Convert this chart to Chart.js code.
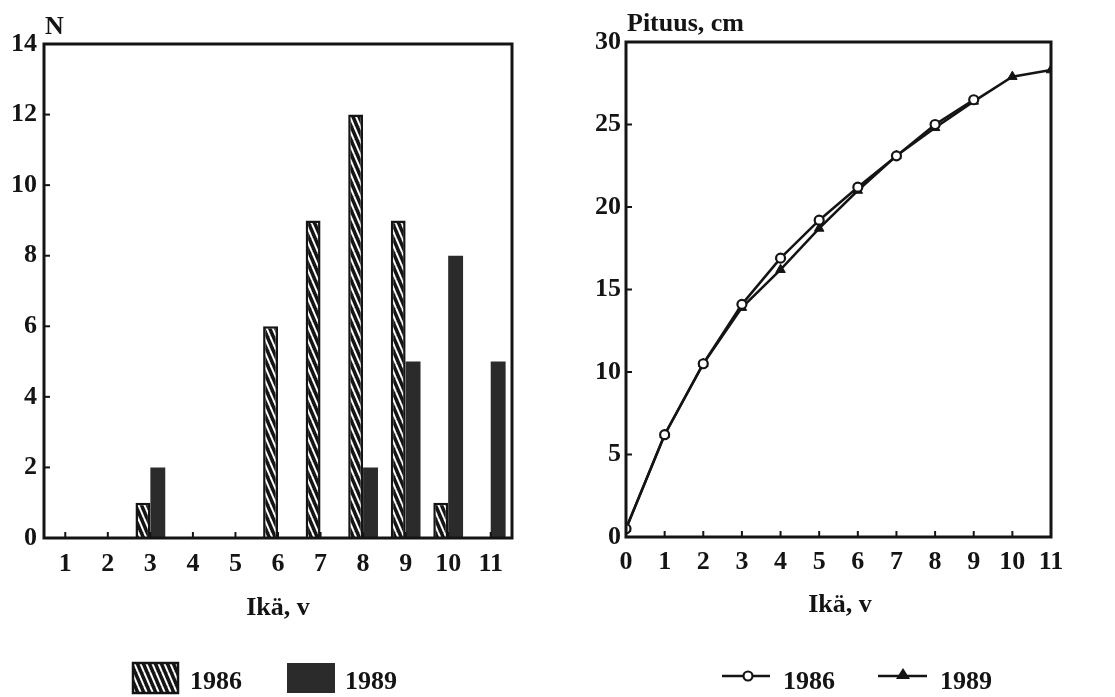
<!DOCTYPE html>
<html><head><meta charset="utf-8">
<script src="https://cdn.jsdelivr.net/npm/chart.js@4"></script>
<style>
html,body{margin:0;padding:0;background:#fff;width:1115px;height:697px;overflow:hidden}
#w1{position:absolute;left:0;top:0;width:540px;height:697px}
#w2{position:absolute;left:540px;top:0;width:575px;height:697px}
</style></head><body>
<div id="w1"><canvas id="c1"></canvas></div>
<div id="w2"><canvas id="c2"></canvas></div>
<script>
// ---- data ----
const ageCategories = ['1','2','3','4','5','6','7','8','9','10','11'];
const count1986 = [0,0,1,0,0,6,9,12,9,1,0];
const count1989 = [0,0,2,0,0,0,0,2,5,8,5];
const countTicks = [0,2,4,6,8,10,12,14];
const lengthAges1986 = [0,1,2,3,4,5,6,7,8,9];
const length1986 = [0.5,6.2,10.5,14.1,16.9,19.2,21.2,23.1,25.0,26.5];
const lengthAges1989 = [0,1,2,3,4,5,6,7,8,9,10,11];
const length1989 = [0.5,6.2,10.5,13.9,16.2,18.7,21.0,23.1,24.8,26.4,27.9,28.3];
const lengthTicks = [0,5,10,15,20,25,30];
const ageTicks = [0,1,2,3,4,5,6,7,8,9,10,11];
const seriesNames = ['1986','1989'];

const INK = '#141414';
const DARK = '#2b2b2b';
const FONT = "'Liberation Serif','DejaVu Serif',serif";
const tickFont = {family: FONT, size: 26, weight: 'bold'};

// hatch pattern
function makeHatch(){
  const c = document.createElement('canvas');
  c.width = 6; c.height = 14;
  const g = c.getContext('2d');
  g.fillStyle = INK; g.fillRect(0,0,6,14);
  g.strokeStyle = '#fff'; g.lineWidth = 2;
  for (let k=-1;k<=1;k++){ g.beginPath(); g.moveTo(k*6,0); g.lineTo(k*6+6,14); g.stroke(); }
  return document.createElement('canvas').getContext('2d').createPattern(c,'repeat');
}
const hatch = makeHatch();

function frameAndTicks(){
  return {
    id:'frame',
    afterDatasetsDraw(chart){
      const {ctx, chartArea:a, scales} = chart;
      ctx.save();
      ctx.strokeStyle = INK; ctx.lineWidth = 3;
      ctx.strokeRect(a.left, a.top, a.right-a.left, a.bottom-a.top);
      ctx.lineWidth = 2;
      scales.y.ticks.forEach(t=>{
        const y = scales.y.getPixelForValue(t.value);
        ctx.beginPath(); ctx.moveTo(a.left, y); ctx.lineTo(a.left+6, y); ctx.stroke();
      });
      scales.x.ticks.forEach((t,i)=>{
        const x = scales.x.getPixelForTick(i);
        ctx.beginPath(); ctx.moveTo(x, a.bottom); ctx.lineTo(x, a.bottom-6); ctx.stroke();
      });
      ctx.restore();
    }
  };
}

// ---- bar chart ----
new Chart(document.getElementById('c1'), {
  type:'bar',
  data:{
    labels: ageCategories,
    datasets:[
      {label:seriesNames[0], data:count1986, backgroundColor:hatch, borderColor:INK, borderWidth:2.5, borderSkipped:'bottom',
       categoryPercentage:0.7, barPercentage:1.0},
      {label:seriesNames[1], data:count1989, backgroundColor:DARK, borderColor:INK, borderWidth:0,
       categoryPercentage:0.7, barPercentage:1.0}
    ]
  },
  options:{
    responsive:true, maintainAspectRatio:false, animation:false, devicePixelRatio:1,
    layout:{padding:{left:0,right:28,top:44,bottom:0}},
    plugins:{legend:{display:false}, tooltip:{enabled:false}},
    scales:{
      x:{grid:{display:false, drawTicks:false}, border:{display:false},
         ticks:{font:tickFont, color:INK, padding:11, maxRotation:0, autoSkip:false},
         afterFit(s){ s.height = 159; }},
      y:{min:0, max:14, afterBuildTicks(s){ s.ticks = countTicks.map(v=>({value:v})); },
         grid:{display:false, drawTicks:false}, border:{display:false},
         ticks:{font:tickFont, color:INK, padding:7},
         afterFit(s){ s.width = 44; }}
    }
  },
  plugins:[frameAndTicks(), {
    id:'texts',
    afterDraw(chart){
      const ctx = chart.ctx;
      ctx.save();
      ctx.fillStyle = INK;
      ctx.font = `bold 26px ${FONT}`;
      ctx.textBaseline = 'middle';
      ctx.textAlign = 'left';
      ctx.fillText('N', 45, 27);
      ctx.textAlign = 'center';
      ctx.fillText('Ikä, v', 278, 608);
      // legend
      ctx.textAlign = 'left';
      ctx.fillStyle = hatch; ctx.fillRect(133,663,45,30);
      ctx.strokeStyle = INK; ctx.lineWidth = 2.5; ctx.strokeRect(133,663,45,30);
      ctx.fillStyle = INK; ctx.fillText(seriesNames[0], 190, 682);
      ctx.fillStyle = DARK; ctx.fillRect(287,663,48,30);
      ctx.fillStyle = INK; ctx.fillText(seriesNames[1], 345, 682);
      ctx.restore();
    }
  }]
});

// ---- line chart ----
new Chart(document.getElementById('c2'), {
  type:'line',
  data:{
    datasets:[
      {label:seriesNames[0], data:lengthAges1986.map((a,i)=>({x:a,y:length1986[i]})),
       borderColor:INK, borderWidth:2.5, pointStyle:'circle', pointRadius:4.5,
       pointBackgroundColor:'#fff', pointBorderColor:INK, pointBorderWidth:2.2, tension:0, fill:false},
      {label:seriesNames[1], data:lengthAges1989.map((a,i)=>({x:a,y:length1989[i]})),
       borderColor:INK, borderWidth:2.5, pointStyle:'triangle', pointRadius:5.5,
       pointBackgroundColor:INK, pointBorderColor:INK, pointBorderWidth:1, tension:0, fill:false}
    ]
  },
  options:{
    responsive:true, maintainAspectRatio:false, animation:false, devicePixelRatio:1,
    layout:{padding:{left:0,right:64,top:42,bottom:0}},
    plugins:{legend:{display:false}, tooltip:{enabled:false}},
    scales:{
      x:{type:'linear', min:0, max:11, afterBuildTicks(s){ s.ticks = ageTicks.map(v=>({value:v})); },
         grid:{display:false, drawTicks:false}, border:{display:false},
         ticks:{font:tickFont, color:INK, padding:10, maxRotation:0, autoSkip:false},
         afterFit(s){ s.height = 160; }},
      y:{min:0, max:30, afterBuildTicks(s){ s.ticks = lengthTicks.map(v=>({value:v})); },
         grid:{display:false, drawTicks:false}, border:{display:false},
         ticks:{font:tickFont, color:INK, padding:5},
         afterFit(s){ s.width = 86; }}
    }
  },
  plugins:[frameAndTicks(), {
    id:'texts2',
    afterDraw(chart){
      const ctx = chart.ctx;
      ctx.save();
      ctx.fillStyle = INK; ctx.strokeStyle = INK;
      ctx.font = `bold 26px ${FONT}`;
      ctx.textBaseline = 'middle';
      ctx.textAlign = 'left';
      ctx.fillText('Pituus, cm', 87, 24);
      ctx.textAlign = 'center';
      ctx.fillText('Ikä, v', 300, 605);
      // legend
      ctx.textAlign = 'left';
      ctx.lineWidth = 2.5;
      ctx.beginPath(); ctx.moveTo(182,676); ctx.lineTo(230,676); ctx.stroke();
      ctx.beginPath(); ctx.arc(208,676,4.5,0,Math.PI*2); ctx.fillStyle='#fff'; ctx.fill(); ctx.lineWidth=2.2; ctx.stroke();
      ctx.fillStyle = INK; ctx.fillText(seriesNames[0], 243, 682);
      ctx.lineWidth = 2.5;
      ctx.beginPath(); ctx.moveTo(338,676); ctx.lineTo(387,676); ctx.stroke();
      ctx.beginPath(); ctx.moveTo(363,668); ctx.lineTo(370,679); ctx.lineTo(356,679); ctx.closePath(); ctx.fill();
      ctx.fillText(seriesNames[1], 400, 682);
      ctx.restore();
    }
  }]
});
</script>
</body></html>
